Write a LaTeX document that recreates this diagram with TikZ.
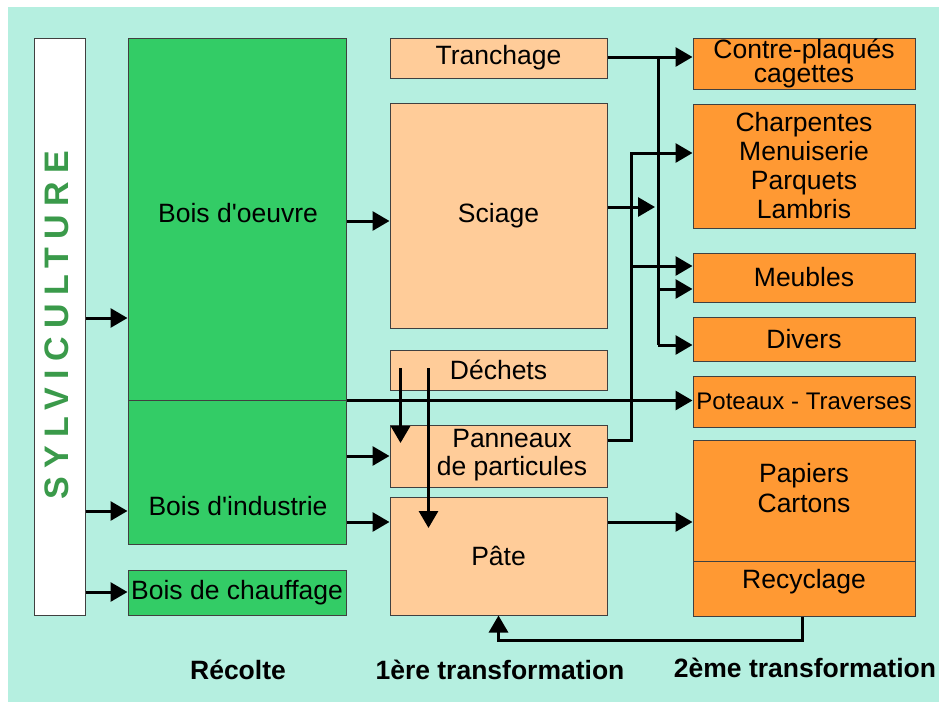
\documentclass[tikz,border=0pt]{standalone}
\usepackage{fontspec}
\setmainfont{Liberation Sans}
\usetikzlibrary{arrows.meta,positioning,calc}

\definecolor{fond}{HTML}{B5EFE0}
\definecolor{vert}{HTML}{33CC66}
\definecolor{vertfonce}{HTML}{3A9A4A}
\definecolor{orclair}{HTML}{FFCC99}
\definecolor{orfonce}{HTML}{FF9933}

\tikzset{
  box/.style={draw=black!75, line width=1pt, inner sep=0pt, align=center},
  recolte/.style={box, fill=vert, minimum width=218pt},
  trans1/.style={box, fill=orclair, minimum width=217pt},
  trans2/.style={box, fill=orfonce, minimum width=222pt},
  fleche/.style={->, line width=3pt},
  titre/.style={font=\fontsize{26.5}{30}\selectfont\bfseries}
}

\begin{document}
\begin{tikzpicture}[x=1pt, y=-1pt, >={Triangle[length=17pt,width=19pt]},
    font=\fontsize{26.5}{29}\selectfont]
  % background
  \useasboundingbox (0,0) rectangle (939,702);
  \fill[fond] (8,7) rectangle (939,702);

  % left column
  \node[box, fill=white, minimum width=51pt, minimum height=577pt] (sylvi) at (59.5,326.5) {};
  \node[rotate=90, text=vertfonce, font=\fontsize{34}{34}\selectfont\bfseries\addfontfeature{LetterSpace=25}]
    (sylvilbl) at (57,325) {SYLVICULTURE};

  % Récolte
  \node[recolte, minimum height=362pt] (oeuvre) at (237,219) {};
  \node (oeuvrelbl) at (238,213) {Bois d\textquotesingle oeuvre};
  \node[recolte, minimum height=144pt] (industrie) at (237,472) {};
  \node (industrielbl) at (238,506) {Bois d\textquotesingle industrie};
  \node[recolte, minimum height=45pt] (chauffage) at (237,592.5) {Bois de chauffage};

  % 1ère transformation
  \node[trans1, minimum height=40pt] (tranchage) at (498.5,58) {Tranchage};
  \node[trans1, minimum height=225pt] (sciage) at (498.5,215.5) {Sciage};
  \node[trans1, minimum height=40pt] (dechets) at (498.5,370) {Déchets};
  \node[trans1, minimum height=62pt] (panneaux) at (498.5,456) {};
  \node[align=center, font=\fontsize{26.5}{28}\selectfont] (panneauxlbl) at (512,455) {Panneaux\\de particules};
  \node[trans1, minimum height=118pt] (pate) at (498.5,556) {Pâte};

  % 2ème transformation
  \node[trans2, minimum height=51pt, font=\fontsize{26.5}{22}\selectfont] (contre) at (804,63.5) {Contre-plaqués\\cagettes};
  \node[trans2, minimum height=124pt] (charpentes) at (804,166) {Charpentes\\Menuiserie\\Parquets\\Lambris};
  \node[trans2, minimum height=49pt] (meubles) at (804,277.5) {Meubles};
  \node[trans2, minimum height=44pt] (divers) at (804,339) {Divers};
  \node[trans2, minimum height=51pt, font=\fontsize{24}{28}\selectfont] (poteaux) at (804,401.5) {Poteaux - Traverses};
  \node[trans2, minimum height=121pt] (papiers) at (804,500.5) {};
  \node[align=center, font=\fontsize{26.5}{30}\selectfont] (papierslbl) at (804,488) {Papiers\\Cartons};
  \node[trans2, minimum height=55pt] (recyclage) at (804,588.5) {};
  \node (recyclagelbl) at (804,582) {Recyclage};

  % column titles
  \node[titre] (t1) at (238,670) {Récolte};
  \node[titre] (t2) at (500,670) {1ère transformation};
  \node[titre] (t3) at (805,668) {2ème transformation};

  % vertical trunks
  \coordinate (tronc) at (658,0);
  \coordinate (tronc2) at (631,0);

  % flows
  \draw[fleche] (sylvi.east |- 0,318) -- (oeuvre.west |- 0,318);
  \draw[fleche] (sylvi.east |- 0,511) -- (industrie.west |- 0,511);
  \draw[fleche] (sylvi.east |- 0,592) -- (chauffage.west |- 0,592);

  \draw[fleche] (oeuvre.east |- 0,221) -- (sciage.west |- 0,221);
  \draw[fleche] (oeuvre.south east) -- (poteaux.west |- oeuvre.south east);
  \draw[fleche] (industrie.east |- 0,456) -- (panneaux.west |- 0,456);
  \draw[fleche] (industrie.east |- 0,522) -- (pate.west |- 0,522);

  \draw[fleche] ([xshift=11pt,yshift=2pt]dechets.west) -- ++(0,75);
  \draw[fleche] ([xshift=39pt,yshift=2pt]dechets.west) -- ++(0,160);

  \draw[fleche] (tranchage.east |- 0,57) -- (contre.west |- 0,57);
  \draw[line width=3pt] (tronc |- 0,57) -- (tronc |- 0,345);
  \draw[fleche] (tronc |- 0,345) -- (divers.west |- 0,345);
  \draw[fleche] (tronc |- 0,289) -- (meubles.west |- 0,289);
  \draw[fleche] (sciage.east |- 0,207) -- ([xshift=-3pt]tronc |- 0,207);

  \draw[fleche] (panneaux.east |- 0,440) -| (tronc2 |- 0,153) -- (charpentes.west |- 0,153);
  \draw[fleche] (tronc2 |- 0,266) -- (meubles.west |- 0,266);

  \draw[fleche] (pate.east |- 0,522) -- (papiers.west |- 0,522);
  \draw[fleche] ([xshift=-2pt]recyclage.south) -- ++(0,24) -| (pate.south);
\end{tikzpicture}
\end{document}
